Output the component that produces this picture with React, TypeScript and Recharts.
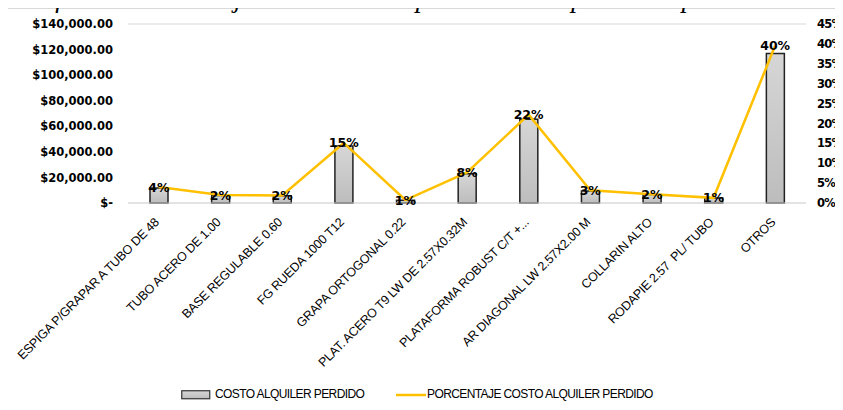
import React from "react";
import {
  ComposedChart, Bar, Line, XAxis, YAxis, CartesianGrid, Legend, LabelList,
} from "recharts";

const elementos = [
  "ESPIGA P/GRAPAR A TUBO DE 48",
  "TUBO ACERO DE 1.00",
  "BASE REGULABLE 0.60",
  "FG RUEDA 1000 T12",
  "GRAPA ORTOGONAL 0.22",
  "PLAT. ACERO T9 LW DE 2.57X0.32M",
  "PLATAFORMA ROBUST C/T +...",
  "AR DIAGONAL LW 2.57X2.00 M",
  "COLLARIN ALTO",
  "RODAPIE 2.57  PL/ TUBO",
  "OTROS",
];
const costoPerdido = [11800, 5900, 5600, 44500, 2200, 22800, 65500, 9400, 6600, 3900, 117000];
const porcentajePerdido = [0.04, 0.02, 0.019, 0.151, 0.0075, 0.077, 0.222, 0.032, 0.022, 0.013, 0.396];
const ticksCosto = [0, 20000, 40000, 60000, 80000, 100000, 120000, 140000];
const ticksPct = [0, 0.05, 0.1, 0.15, 0.2, 0.25, 0.3, 0.35, 0.4, 0.45];

const data = elementos.map((e, i) => ({ e, costo: costoPerdido[i], pct: porcentajePerdido[i] }));

const AXIS_FONT = "'DejaVu Sans', sans-serif";
const LBL_FONT = "'Liberation Sans', Arial, sans-serif";

const fmtMoney = (v: number) =>
  v === 0 ? "$-" : "$" + v.toLocaleString("en-US", { minimumFractionDigits: 2, maximumFractionDigits: 2 });
const fmtPct = (v: number) => Math.round(v * 100) + "%";

function XTick(props: any) {
  const { x, y, payload } = props;
  return (
    <text
      x={x + 1}
      y={y + 12}
      transform={`rotate(-45, ${x + 1}, ${y + 12})`}
      textAnchor="end"
      fontFamily={LBL_FONT}
      fontSize={12.5}
      letterSpacing={-0.2}
      fill="#000"
      style={{ whiteSpace: "pre" }}
    >
      {payload.value}
    </text>
  );
}

function PctLabel(props: any) {
  const { x, y, value } = props;
  return (
    <text x={x} y={y} dy={4.5} textAnchor="middle" fontFamily={AXIS_FONT} fontSize={12.5} fontWeight={600} fill="#000">
      {fmtPct(value)}
    </text>
  );
}

function Leyenda() {
  return (
    <div style={{ position: "relative", width: 843, height: 20, fontFamily: LBL_FONT, fontSize: 12, color: "#000" }}>
      <svg style={{ position: "absolute", left: 181, top: 5 }} width={30} height={10}>
        <rect x={0.75} y={0.75} width={28} height={8} fill="url(#legGrad)" stroke="#333" strokeWidth={1.2} />
        <defs>
          <linearGradient id="legGrad" x1="0" y1="0" x2="0" y2="1">
            <stop offset="0" stopColor="#d6d6d6" />
            <stop offset="1" stopColor="#bdbdbd" />
          </linearGradient>
        </defs>
      </svg>
      <span style={{ position: "absolute", left: 215, top: 2, letterSpacing: -0.6, whiteSpace: "nowrap" }}>
        COSTO ALQUILER PERDIDO
      </span>
      <svg style={{ position: "absolute", left: 396, top: 8 }} width={30} height={4}>
        <line x1={0} y1={2} x2={30} y2={2} stroke="#FFC000" strokeWidth={2.5} />
      </svg>
      <span style={{ position: "absolute", left: 427, top: 2, letterSpacing: -0.6, whiteSpace: "nowrap" }}>
        PORCENTAJE COSTO ALQUILER PERDIDO
      </span>
    </div>
  );
}

export default function App() {
  return (
    <div style={{ position: "relative", width: 843, height: 410, margin: -8, overflow: "hidden", background: "#fff" }}>
      <div
        style={{
          position: "absolute", left: 7, top: 8, width: 900, height: 500,
          border: "1px solid #d9d9d9", boxSizing: "border-box",
        }}
      />
      <ComposedChart width={843} height={410} data={data} margin={{ top: 24, right: 0, bottom: 0, left: 0 }}>
        <defs>
          <linearGradient id="barGrad" x1="0" y1="0" x2="0" y2="1">
            <stop offset="0" stopColor="#d6d6d6" />
            <stop offset="1" stopColor="#bdbdbd" />
          </linearGradient>
        </defs>
        <CartesianGrid vertical={false} stroke="#d9d9d9" strokeWidth={1.2} />
        <XAxis
          dataKey="e"
          height={207}
          interval={0}
          tick={<XTick />}
          tickLine={false}
          axisLine={{ stroke: "#d9d9d9", strokeWidth: 1.2 }}
        />
        <YAxis
          yAxisId="left"
          width={128}
          domain={[0, 140000]}
          ticks={ticksCosto}
          tickFormatter={fmtMoney}
          axisLine={false}
          tickLine={false}
          tickMargin={9}
          tick={{ fontFamily: AXIS_FONT, fontSize: 11.5, fontWeight: 600, fill: "#000" }}
        />
        <YAxis
          yAxisId="right"
          orientation="right"
          width={37}
          domain={[0, 0.45]}
          ticks={ticksPct}
          tickFormatter={fmtPct}
          axisLine={false}
          tickLine={false}
          tickMargin={5}
          tick={{ fontFamily: AXIS_FONT, fontSize: 11.5, fontWeight: 600, fill: "#000", letterSpacing: -0.8 }}
        />
        <Bar
          yAxisId="left"
          dataKey="costo"
          name="COSTO ALQUILER PERDIDO"
          barSize={18}
          fill="url(#barGrad)"
          stroke="#222"
          strokeWidth={1.5}
          isAnimationActive={false}
        />
        <Line
          yAxisId="right"
          dataKey="pct"
          name="PORCENTAJE COSTO ALQUILER PERDIDO"
          type="linear"
          stroke="#FFC000"
          strokeWidth={2.5}
          dot={false}
          activeDot={false}
          isAnimationActive={false}
        >
          <LabelList dataKey="pct" content={<PctLabel />} />
        </Line>
        <Legend
          layout="horizontal"
          verticalAlign="middle"
          align="center"
          wrapperStyle={{ top: 385, left: 0, width: 843 }}
          content={<Leyenda />}
        />
      </ComposedChart>
      <div
        style={{
          position: "absolute", left: 4, top: -17, whiteSpace: "nowrap",
          fontFamily: "'Liberation Serif', serif", fontStyle: "italic", fontSize: 27,
          letterSpacing: 2.6, color: "#000",
        }}
      >
        Gráfico Porcentaje Costo de Oportunidad perdida por elemento
      </div>
    </div>
  );
}
